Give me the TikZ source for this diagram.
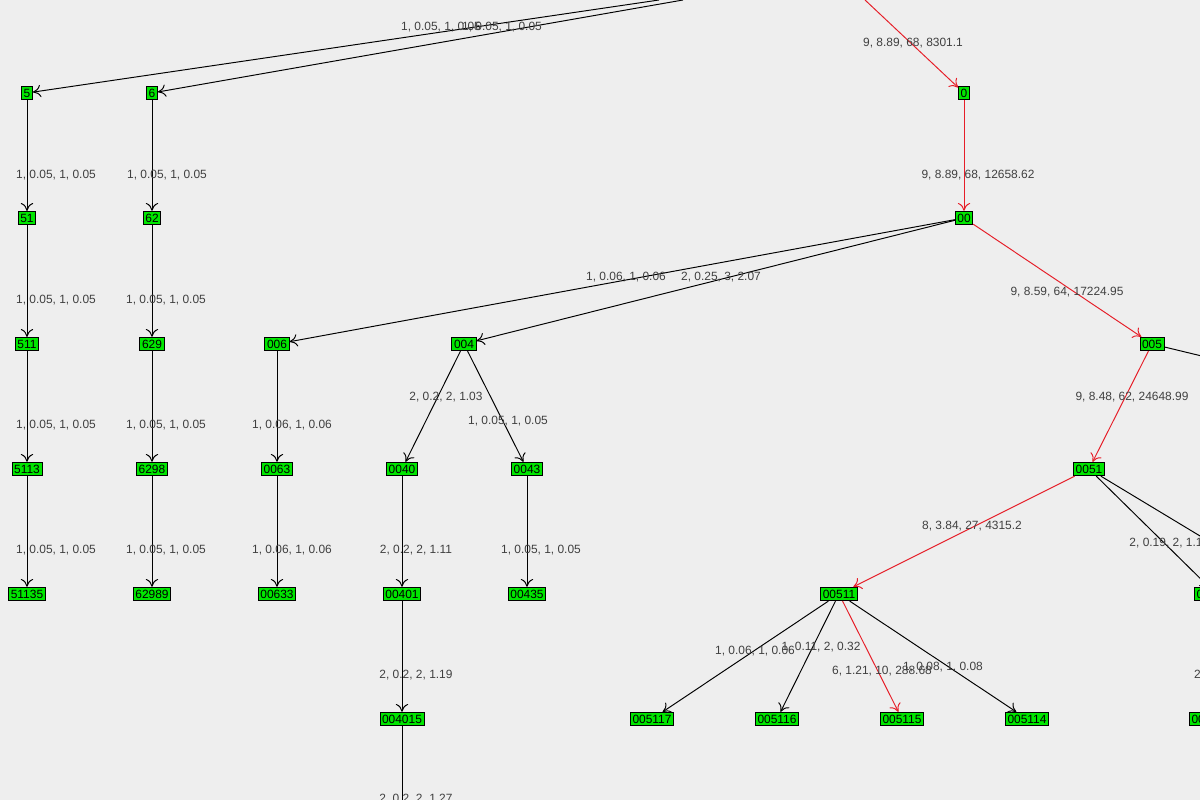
\documentclass[tikz,border=0pt]{standalone}
\usepackage{fontspec}
\setmainfont{Liberation Sans}
\usetikzlibrary{arrows.meta}
\definecolor{bggray}{RGB}{238,238,238}
\definecolor{vgreen}{RGB}{0,230,0}
\definecolor{hotred}{RGB}{230,30,40}
\tikzset{
  vert/.style={rectangle, draw=black, fill=vgreen, inner xsep=1.2pt, inner ysep=1.4pt, line width=0.5pt, font=\fontsize{6.8}{7}\selectfont},
  elab/.style={font=\fontsize{6.8}{7}\selectfont, text=black!75},
  edge/.style={-{To[length=4.5pt,width=7pt]}, line width=0.55pt, black},
  hot/.style={edge, hotred}
}
\begin{document}
\begin{tikzpicture}[x=0.02cm, y=-0.02cm]
    \fill[bggray] (0,0) rectangle (1200,800);
    \useasboundingbox (0,0) rectangle (1200,800);
    \clip (0,0) rectangle (1200,800);
    % off-screen ends
    \coordinate (top5) at (659,0);
    \coordinate (top6) at (683,0);
    \coordinate (topred) at (865,0);
    \coordinate (off005) at (1210,358);
    \coordinate (off0051) at (1210,542);
    \coordinate (offdown) at (402,810);
    % row 1
    \node[vert] (n5) at (27,93) {5};
    \node[vert] (n6) at (152,93) {6};
    \node[vert] (n0) at (964,93) {0};
    % row 2
    \node[vert] (n51) at (27,218) {51};
    \node[vert] (n62) at (152,218) {62};
    \node[vert] (n00) at (964,218) {00};
    % row 3
    \node[vert] (n511) at (27,344) {511};
    \node[vert] (n629) at (152,344) {629};
    \node[vert] (n006) at (277,344) {006};
    \node[vert] (n004) at (464,344) {004};
    \node[vert] (n005) at (1152,344) {005};
    % row 4
    \node[vert] (n5113) at (27,469) {5113};
    \node[vert] (n6298) at (152,469) {6298};
    \node[vert] (n0063) at (277,469) {0063};
    \node[vert] (n0040) at (402,469) {0040};
    \node[vert] (n0043) at (527,469) {0043};
    \node[vert] (n0051) at (1089,469) {0051};
    % row 5
    \node[vert] (n51135) at (27,594) {51135};
    \node[vert] (n62989) at (152,594) {62989};
    \node[vert] (n00633) at (277,594) {00633};
    \node[vert] (n00401) at (402,594) {00401};
    \node[vert] (n00435) at (527,594) {00435};
    \node[vert] (n00511) at (839,594) {00511};
    \node[vert, anchor=west] (n0051x) at (1194,594) {005112};
    % row 6
    \node[vert] (n004015) at (402,719) {004015};
    \node[vert] (n005117) at (652,719) {005117};
    \node[vert] (n005116) at (777,719) {005116};
    \node[vert] (n005115) at (902,719) {005115};
    \node[vert] (n005114) at (1027,719) {005114};
    \node[vert, anchor=west] (n00511x) at (1189,719) {005113};
    % edges
    \draw[edge] (top5) -- (n5);
    \draw[edge] (top6) -- (n6);
    \draw[hot] (topred) -- (n0);
    \draw[edge] (n5) -- (n51);
    \draw[edge] (n6) -- (n62);
    \draw[hot] (n0) -- (n00);
    \draw[edge] (n51) -- (n511);
    \draw[edge] (n62) -- (n629);
    \draw[edge] (n00) -- (n006);
    \draw[edge] (n00) -- (n004);
    \draw[hot] (n00) -- (n005);
    \draw[edge] (n511) -- (n5113);
    \draw[edge] (n629) -- (n6298);
    \draw[edge] (n006) -- (n0063);
    \draw[edge] (n004) -- (n0040);
    \draw[edge] (n004) -- (n0043);
    \draw[hot] (n005) -- (n0051);
    \draw[edge] (n005) -- (off005);
    \draw[edge] (n5113) -- (n51135);
    \draw[edge] (n6298) -- (n62989);
    \draw[edge] (n0063) -- (n00633);
    \draw[edge] (n0040) -- (n00401);
    \draw[edge] (n0043) -- (n00435);
    \draw[hot] (n0051) -- (n00511);
    \draw[edge] (n0051) -- (n0051x);
    \draw[edge] (n0051) -- (off0051);
    \draw[edge] (n00401) -- (n004015);
    \draw[edge] (n00511) -- (n005117);
    \draw[edge] (n00511) -- (n005116);
    \draw[hot] (n00511) -- (n005115);
    \draw[edge] (n00511) -- (n005114);
    \draw[edge] (n004015) -- (offdown);
    % edge labels
    \node[elab] (l5) at (441,27) {1, 0.05, 1, 0.05};
    \node[elab] (l6) at (502,27) {1, 0.05, 1, 0.05};
    \node[elab] (l0) at (913,43) {9, 8.89, 68, 8301.1};
    \node[elab] (l51) at (56,175) {1, 0.05, 1, 0.05};
    \node[elab] (l62) at (167,175) {1, 0.05, 1, 0.05};
    \node[elab] (l00) at (978,175) {9, 8.89, 68, 12658.62};
    \node[elab] (l511) at (56,300) {1, 0.05, 1, 0.05};
    \node[elab] (l629) at (166,300) {1, 0.05, 1, 0.05};
    \node[elab] (l006) at (626,277) {1, 0.06, 1, 0.06};
    \node[elab] (l004) at (721,277) {2, 0.25, 3, 2.07};
    \node[elab] (l005) at (1067,292) {9, 8.59, 64, 17224.95};
    \node[elab] (l5113) at (56,425) {1, 0.05, 1, 0.05};
    \node[elab] (l6298) at (166,425) {1, 0.05, 1, 0.05};
    \node[elab] (l0063) at (292,425) {1, 0.06, 1, 0.06};
    \node[elab] (l0040) at (446,397) {2, 0.2, 2, 1.03};
    \node[elab] (l0043) at (508,421) {1, 0.05, 1, 0.05};
    \node[elab] (l0051) at (1132,397) {9, 8.48, 62, 24648.99};
    \node[elab] (l51135) at (56,550) {1, 0.05, 1, 0.05};
    \node[elab] (l62989) at (166,550) {1, 0.05, 1, 0.05};
    \node[elab] (l00633) at (292,550) {1, 0.06, 1, 0.06};
    \node[elab] (l00401) at (416,550) {2, 0.2, 2, 1.11};
    \node[elab] (l00435) at (541,550) {1, 0.05, 1, 0.05};
    \node[elab] (l00511) at (972,526) {8, 3.84, 27, 4315.2};
    \node[elab] (l0051x) at (1166,543) {2, 0.19, 2, 1.1};
    \node[elab] (l004015) at (416,675) {2, 0.2, 2, 1.19};
    \node[elab] (l005117) at (755,651) {1, 0.06, 1, 0.06};
    \node[elab] (l005116) at (821,647) {1, 0.11, 2, 0.32};
    \node[elab] (l005115) at (882,671) {6, 1.21, 10, 288.68};
    \node[elab] (l005114) at (943,667) {1, 0.08, 1, 0.08};
    \node[elab, anchor=west] (l00511x) at (1188,675) {2, 0.2, 2, 1.3};
    \node[elab] (lbottom) at (416,799) {2, 0.2, 2, 1.27};
\end{tikzpicture}
\end{document}
